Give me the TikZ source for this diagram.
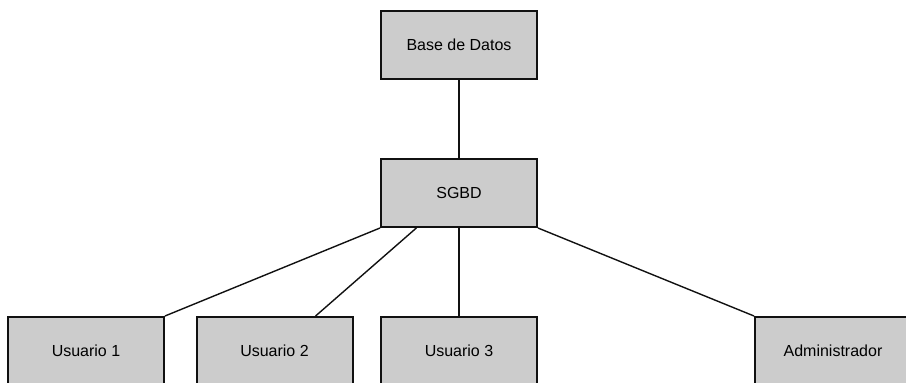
\documentclass[tikz,border=0pt]{standalone}
\usepackage{fontspec}
\setmainfont{Liberation Sans}
\usepackage{xcolor}
\usepackage{tikz}
\usetikzlibrary{calc,positioning}
\definecolor{boxfill}{HTML}{CCCCCC}
\definecolor{edgec}{HTML}{111111}
\tikzset{
  ent/.style={draw=edgec,line width=2pt,fill=boxfill,minimum width=156pt,minimum height=68pt,inner sep=0pt,font=\fontsize{16}{19}\selectfont},
  ln/.style={line width=1.4pt,edgec}
}

\begin{document}
\begin{tikzpicture}[x=1pt,y=-1pt]
\useasboundingbox (0,0) rectangle (906,383);
\node[ent] (bd) at (459,44.5) {Base de Datos};
\node[ent] (sgbd) at (459,193) {SGBD};
\node[ent] (u1) at (86,351) {Usuario 1};
\node[ent] (u2) at (274.5,351) {Usuario 2};
\node[ent] (u3) at (459,351) {Usuario 3};
\node[ent] (adm) at (833,351) {Administrador};
\coordinate (s2) at ($(sgbd.south west)!0.23!(sgbd.south east)$);
\coordinate (t2) at ($(u2.north west)!0.76!(u2.north east)$);
\draw[ln] (bd) -- (sgbd);
\draw[ln] (sgbd.south west) -- (u1.north east);
\draw[ln] (s2) -- (t2);
\draw[ln] (sgbd) -- (u3);
\draw[ln] (sgbd.south east) -- (adm.north west);
\end{tikzpicture}
\end{document}
